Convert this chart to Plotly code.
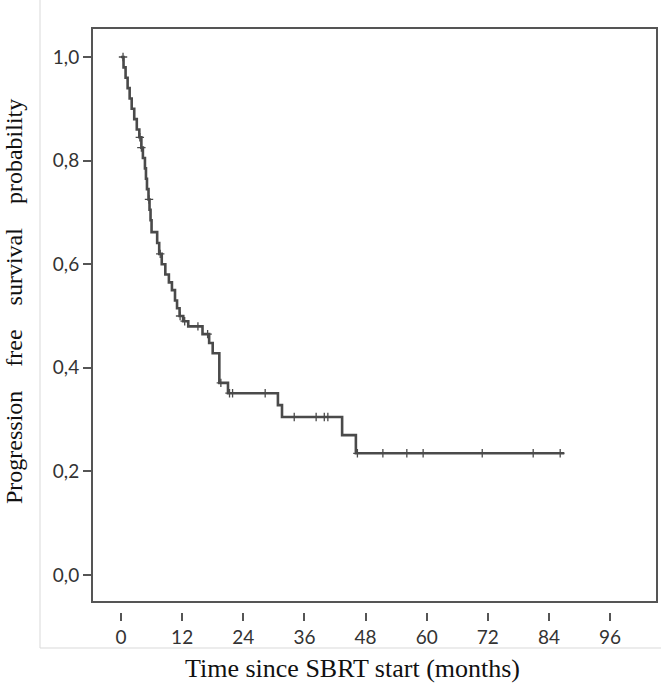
import plotly.graph_objects as go
import numpy as np

# Kaplan-Meier step function (time in months, survival after step)
step_times = [0.0, 0.5, 0.9, 1.3, 1.7, 2.1, 2.6, 3.1, 3.6, 4.0, 4.3, 4.7, 4.9, 5.1, 5.4,
              5.6, 5.8, 6.0, 7.1, 7.5, 8.0, 8.7, 9.4, 10.0, 10.6, 11.0, 11.5, 12.2,
              13.2, 16.0, 17.3, 18.0, 19.3, 21.0, 30.8, 31.6, 43.4, 46.1]
step_surv = [1.0, 0.98, 0.96, 0.94, 0.92, 0.90, 0.88, 0.86, 0.845, 0.825, 0.805, 0.785,
             0.765, 0.745, 0.725, 0.705, 0.685, 0.662, 0.641, 0.62, 0.60, 0.58, 0.565,
             0.55, 0.53, 0.515, 0.50, 0.49, 0.48, 0.465, 0.448, 0.428, 0.371, 0.351,
             0.328, 0.305, 0.270, 0.235]
end_time = 87.0

censor_times = [0.4, 3.7, 4.0, 5.5, 7.7, 11.6, 12.5, 15.1, 17.0, 19.6, 21.3, 21.9,
                28.3, 34.0, 38.3, 39.9, 40.6, 46.4, 51.4, 56.1, 59.3, 70.9, 80.9, 86.2]

x_ticks = [0, 12, 24, 36, 48, 60, 72, 84, 96]
y_ticks = [0.0, 0.2, 0.4, 0.6, 0.8, 1.0]
x_title = "Time since SBRT start (months)"
y_title_words = ["Progression", "free", "survival", "probability"]

# build step path
xs, ys = [], []
for i, (t, s) in enumerate(zip(step_times, step_surv)):
    if i > 0:
        xs.append(t); ys.append(step_surv[i - 1])
    xs.append(t); ys.append(s)
xs.append(end_time); ys.append(step_surv[-1])

def surv_at(t):
    idx = np.searchsorted(step_times, t, side="right") - 1
    return step_surv[max(idx, 0)]

cens_y = [surv_at(t) for t in censor_times]

col = "#4a4a4a"
fig = go.Figure()
fig.add_trace(go.Scatter(x=xs, y=ys, mode="lines",
                         line=dict(color=col, width=2.6, shape="linear"),
                         hoverinfo="skip", showlegend=False, xaxis="x", yaxis="y"))
fig.add_trace(go.Scatter(x=censor_times, y=cens_y, mode="markers",
                         marker=dict(symbol="cross-thin", size=6,
                                     line=dict(color=col, width=1.3)),
                         showlegend=False, xaxis="x", yaxis="y"))

W, H = 661, 688
L, R, T, B = 92, 4, 28, 76
ph = H - T - B  # 584
dom0 = 10 / ph

tickfont = dict(family="Lato, Open Sans, sans-serif", size=19, color="#333333")
serif = "Liberation Serif, Times New Roman, serif"
gap = " " + "\u00a0" * 3
y_title = gap.join(y_title_words)

fig.update_layout(
    width=W, height=H,
    margin=dict(l=L, r=R, t=T, b=B),
    paper_bgcolor="white", plot_bgcolor="white",
    separators=", ",
    xaxis=dict(range=[-5.69, 105.2], tickvals=x_ticks, ticks="outside", ticklen=8,
               tickwidth=2, tickcolor="#555555", showline=False, showgrid=False,
               zeroline=False, anchor="free", position=0, tickfont=tickfont),
    yaxis=dict(range=[-0.0521, 1.056], domain=[dom0, 1], tickvals=y_ticks,
               tickformat=".1f", ticks="outside", ticklen=8, tickwidth=2,
               tickcolor="#555555", showline=False, showgrid=False, zeroline=False,
               tickfont=tickfont),
    shapes=[
        dict(type="rect", xref="x domain", yref="y domain", x0=0, x1=1, y0=0, y1=1,
             line=dict(color="#555555", width=2)),
        dict(type="rect", xref="paper", yref="paper",
             x0=(40 - L) / (W - L - R), x1=1.02,
             y0=-(648 - (H - B)) / ph, y1=1.1,
             line=dict(color="#d9d9d9", width=1)),
    ],
    annotations=[
        dict(text=x_title, xref="paper", yref="paper",
             x=(352 - L) / (W - L - R), y=-(668 - (H - B)) / ph,
             showarrow=False, xanchor="center", yanchor="middle",
             font=dict(family=serif, size=26, color="#111111")),
        dict(text=y_title, xref="paper", yref="paper",
             x=(14 - L) / (W - L - R), y=(H - B - 302) / ph, textangle=-90,
             showarrow=False, xanchor="center", yanchor="middle",
             font=dict(family=serif, size=24, color="#111111")),
    ],
)

fig.write_html("out.html", config={"displayModeBar": False},
               post_script="document.body.style.margin='0';")
